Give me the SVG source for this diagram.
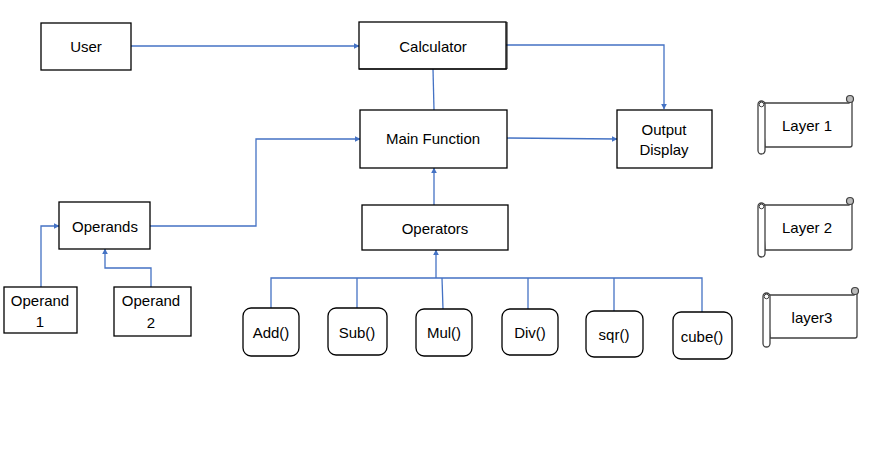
<svg xmlns="http://www.w3.org/2000/svg" width="874" height="454" viewBox="0 0 874 454">
<style>
.b{fill:#fff;stroke:#000;stroke-width:1.3}
.t{font-family:"Liberation Sans",Arial,sans-serif;font-size:15px;fill:#000;text-anchor:middle;dominant-baseline:central}
.c{fill:none;stroke:#4472C4;stroke-width:1.3}
.s{fill:#fff;stroke:#404040;stroke-width:1.3}
</style>
<defs>
<marker id="a" viewBox="0 0 10 10" refX="9" refY="5" markerWidth="6" markerHeight="6" orient="auto" markerUnits="userSpaceOnUse">
<path d="M0,0 L10,5 L0,10 z" fill="#4472C4"/>
</marker>
</defs>
<rect width="874" height="454" fill="#fff"/>
<g id="connectors">
<path class="c" d="M131,46 L359,46" marker-end="url(#a)"/>
<path class="c" d="M506,45 L664,45 L664,109" marker-end="url(#a)"/>
<path class="c" d="M433,69 L434,110"/>
<path class="c" d="M507,138 L617,139" marker-end="url(#a)"/>
<path class="c" d="M434,205 L434,168" marker-end="url(#a)"/>
<path class="c" d="M150,226 L256,226 L256,139 L360,139" marker-end="url(#a)"/>
<path class="c" d="M41,287 L41,226 L59,226" marker-end="url(#a)"/>
<path class="c" d="M151,287 L151,268 L105,268 L105,249" marker-end="url(#a)"/>
<path class="c" d="M436,278 L436,250" marker-end="url(#a)"/>
<path class="c" d="M271,308 L271,278 L702,278 L702,312"/>
<path class="c" d="M357,278 L357,308"/>
<path class="c" d="M442,278 L443,309"/>
<path class="c" d="M528,278 L528,309"/>
<path class="c" d="M614,278 L614,311"/>
</g>
<g id="user"><rect class="b" x="41" y="23" width="90" height="47"/><text class="t" x="86" y="46">User</text></g>
<g id="calculator"><rect class="b" x="359" y="22" width="147" height="47"/><path d="M359,69 L507,69 L507,22" fill="none" stroke="#000" stroke-width="1"/><text class="t" x="433" y="46">Calculator</text></g>
<g id="main"><rect class="b" x="360" y="110" width="147" height="58"/><text class="t" x="433" y="138">Main Function</text></g>
<g id="output"><rect class="b" x="617" y="110" width="95" height="58"/><text class="t" x="664" y="129">Output</text><text class="t" x="664" y="149">Display</text></g>
<g id="operators"><rect class="b" x="362" y="205" width="146" height="45"/><text class="t" x="435" y="228">Operators</text></g>
<g id="operands"><rect class="b" x="59" y="202" width="91" height="47"/><text class="t" x="105" y="226">Operands</text></g>
<g id="operand1"><rect class="b" x="4" y="287" width="73" height="46"/><text class="t" x="40" y="300">Operand</text><text class="t" x="40" y="321">1</text></g>
<g id="operand2"><rect class="b" x="114" y="287" width="77" height="49"/><text class="t" x="151" y="300">Operand</text><text class="t" x="151" y="322">2</text></g>
<g id="add"><rect class="b" x="243" y="308" width="56" height="48" rx="8"/><text class="t" x="271" y="332">Add()</text></g>
<g id="sub"><rect class="b" x="328" y="308" width="59" height="47" rx="8"/><text class="t" x="357" y="332">Sub()</text></g>
<g id="mul"><rect class="b" x="416" y="309" width="56" height="47" rx="8"/><text class="t" x="444" y="332">Mul()</text></g>
<g id="div"><rect class="b" x="502" y="309" width="56" height="46" rx="8"/><text class="t" x="530" y="332">Div()</text></g>
<g id="sqr"><rect class="b" x="586" y="311" width="57" height="46" rx="8"/><text class="t" x="614" y="334">sqr()</text></g>
<g id="cube"><rect class="b" x="673" y="312" width="59" height="47" rx="8"/><text class="t" x="702" y="336">cube()</text></g>
<g id="layer1">
<path class="s" d="M762,103 L849,103 L852,100 L852,145 Q852,147 850,147 L765,147 Z"/>
<circle cx="850" cy="99" r="3.5" fill="#bbb" stroke="#404040" stroke-width="1.2"/>
<rect class="s" x="758" y="101" width="7" height="53" rx="3.5"/>
<circle cx="761.5" cy="104.5" r="2.3" fill="#fff" stroke="#404040" stroke-width="1"/>
<text class="t" x="807" y="125">Layer 1</text>
</g>
<g id="layer2">
<path class="s" d="M762,205 L849,205 L852,202 L852,248 Q852,250 850,250 L765,250 Z"/>
<circle cx="850" cy="201" r="3.5" fill="#bbb" stroke="#404040" stroke-width="1.2"/>
<rect class="s" x="758" y="203" width="7" height="54" rx="3.5"/>
<circle cx="761.5" cy="206.5" r="2.3" fill="#fff" stroke="#404040" stroke-width="1"/>
<text class="t" x="807" y="227">Layer 2</text>
</g>
<g id="layer3">
<path class="s" d="M767,295 L854,295 L857,292 L857,336 Q857,338 855,338 L770,338 Z"/>
<circle cx="855" cy="291" r="3.5" fill="#bbb" stroke="#404040" stroke-width="1.2"/>
<rect class="s" x="763" y="293" width="7" height="54" rx="3.5"/>
<circle cx="766.5" cy="296.5" r="2.3" fill="#fff" stroke="#404040" stroke-width="1"/>
<text class="t" x="812" y="317">layer3</text>
</g>
</svg>
